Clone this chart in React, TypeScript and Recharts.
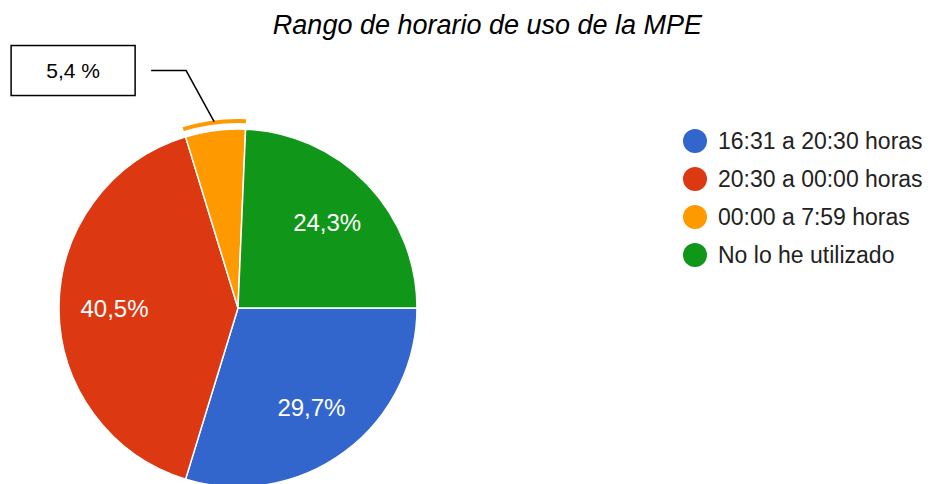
import { PieChart, Pie, Cell, Legend } from "recharts";

const categories = ["16:31 a 20:30 horas", "20:30 a 00:00 horas", "00:00 a 7:59 horas", "No lo he utilizado"];
const responses = [11, 15, 2, 9];
const colors = ["#3366cc", "#dc3912", "#ff9900", "#109618"];

const chartTitle = "Rango de horario de uso de la MPE";
const FONT = "'Liberation Sans', Arial, sans-serif";
const RADIAN = Math.PI / 180;

const data = categories.map((name, i) => ({ name, value: responses[i] }));

const fmt = (p: number, sep = "") => (p * 100).toFixed(1).replace(".", ",") + sep + "%";

function SliceLabel(props: any) {
    const { cx, cy, midAngle, outerRadius, percent } = props;
    if (percent < 0.1) {
        // small slice: annotation box with leader line
        const r0 = outerRadius + 9;
        const x0 = cx + r0 * Math.cos(-midAngle * RADIAN);
        const y0 = cy + r0 * Math.sin(-midAngle * RADIAN);
        const x1 = x0 - 28;
        const y1 = y0 - 51;
        const x2 = x1 - 35;
        const boxW = 124;
        const boxH = 50;
        const bx = x2 - 16 - boxW;
        return (
            <g>
                <polyline points={`${x0},${y0} ${x1},${y1} ${x2},${y1}`} fill="none" stroke="#000" strokeWidth={1.5} />
                <rect x={bx} y={y1 - boxH / 2} width={boxW} height={boxH} fill="#fff" stroke="#000" strokeWidth={1.5} />
                <text x={bx + boxW / 2} y={y1} textAnchor="middle" dominantBaseline="central" fontSize={21} fontFamily={FONT} fill="#000">
                    {fmt(percent, " ")}
                </text>
            </g>
        );
    }
    const r = outerRadius * 0.69;
    const x = cx + r * Math.cos(-midAngle * RADIAN);
    const y = cy + r * Math.sin(-midAngle * RADIAN);
    return (
        <text x={x} y={y} textAnchor="middle" dominantBaseline="central" fontSize={24} fontFamily={FONT} fill="#fff">
            {fmt(percent)}
        </text>
    );
}

function LegendContent() {
    return (
        <div style={{ fontFamily: FONT }}>
            {categories.map((c, i) => (
                <div key={c} style={{ display: "flex", alignItems: "center", height: 38 }}>
                    <span style={{ width: 24, height: 24, borderRadius: "50%", background: colors[i], display: "inline-block", marginRight: 11 }} />
                    <span style={{ fontSize: 23, color: "#222", whiteSpace: "nowrap" }}>{c}</span>
                </div>
            ))}
        </div>
    );
}

export default function App() {
    return (
        <div style={{ position: "absolute", left: 0, top: 0, width: 933, height: 484, background: "#fff", overflow: "hidden" }}>
            <div style={{ position: "absolute", top: 10, left: 0, width: 975, textAlign: "center", fontFamily: FONT, fontStyle: "italic", fontSize: 27, color: "#000" }}>
                {chartTitle}
            </div>
            <PieChart width={933} height={484}>
                <Pie
                    data={data}
                    dataKey="value"
                    nameKey="name"
                    cx={233}
                    cy={303}
                    innerRadius={185}
                    outerRadius={189}
                    startAngle={0}
                    endAngle={-360}
                    stroke="none"
                    legendType="none"
                    isAnimationActive={false}
                >
                    {data.map((d, i) => (
                        <Cell key={d.name} fill={i === 2 ? colors[i] : "none"} />
                    ))}
                </Pie>
                <Pie
                    data={data}
                    dataKey="value"
                    nameKey="name"
                    cx={233}
                    cy={303}
                    outerRadius={179}
                    startAngle={0}
                    endAngle={-360}
                    stroke="#fff"
                    strokeWidth={1.5}
                    label={SliceLabel}
                    labelLine={false}
                    isAnimationActive={false}
                >
                    {data.map((d, i) => (
                        <Cell key={d.name} fill={colors[i]} />
                    ))}
                </Pie>
                <Legend
                    layout="vertical"
                    content={LegendContent}
                    wrapperStyle={{ position: "absolute", top: 122, left: 683, width: 260 }}
                />
            </PieChart>
        </div>
    );
}
